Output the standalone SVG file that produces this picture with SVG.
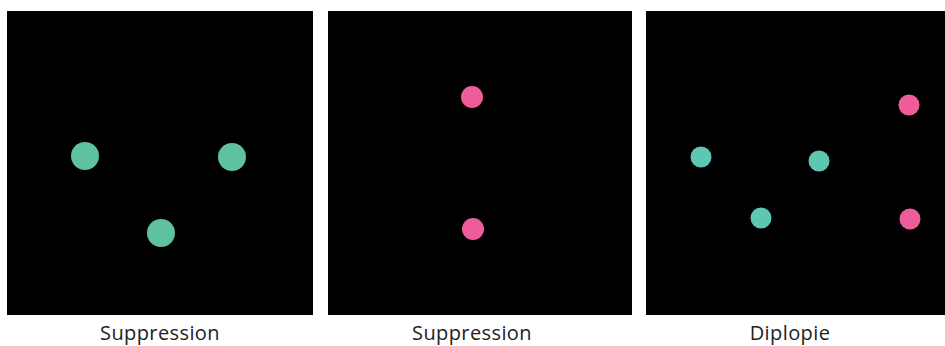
<svg xmlns="http://www.w3.org/2000/svg" width="945" height="346" viewBox="0 0 945 346">
<style>
.panel{fill:#000}
.green{fill:#5fc29e}
.teal{fill:#5fc6b2}
.pink{fill:#ee5c9c}
.lbl{font-family:"Open Sans","Noto Sans",sans-serif;font-size:20px;letter-spacing:0.4px;fill:#222;text-anchor:middle}
</style>
<rect width="945" height="346" fill="#fff"/>
<g id="panel1">
<rect class="panel" x="7" y="11" width="306" height="304"/>
<circle class="green" cx="85" cy="156" r="14"/>
<circle class="green" cx="232" cy="157" r="14"/>
<circle class="green" cx="161" cy="233" r="14"/>
<text class="lbl" x="160" y="340">Suppression</text>
</g>
<g id="panel2">
<rect class="panel" x="328" y="11" width="304" height="304"/>
<circle class="pink" cx="472" cy="97" r="11"/>
<circle class="pink" cx="473" cy="229" r="11"/>
<text class="lbl" x="472" y="340">Suppression</text>
</g>
<g id="panel3">
<rect class="panel" x="646" y="11" width="299" height="304"/>
<circle class="teal" cx="701" cy="157" r="10.5"/>
<circle class="teal" cx="819" cy="161" r="10.5"/>
<circle class="teal" cx="761" cy="218" r="10.5"/>
<circle class="pink" cx="909" cy="105" r="10.5"/>
<circle class="pink" cx="910" cy="219" r="10.5"/>
<text class="lbl" x="790" y="340">Diplopie</text>
</g>
<g id="connectors"></g>
</svg>
